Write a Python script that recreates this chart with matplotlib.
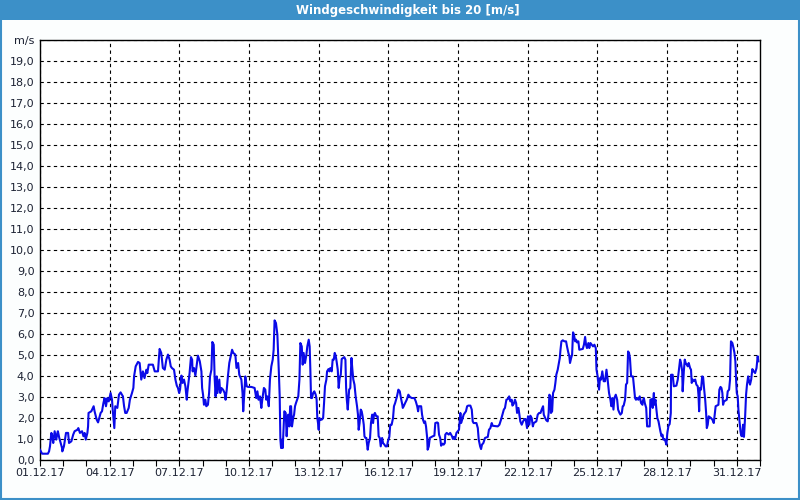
import numpy as np
import matplotlib.pyplot as plt
from matplotlib.patches import Rectangle

# wind speed, time in days since 01.12.17 00:00
days = [0.00, 0.09, 0.34, 0.39, 0.43, 0.49, 0.53, 0.57, 0.63, 0.70, 0.75, 0.77, 0.83, 0.95, 0.96,
        1.03, 1.12, 1.21, 1.25, 1.35, 1.43, 1.49, 1.61, 1.65, 1.72, 1.81, 1.87, 1.92, 1.97,
        2.04, 2.07, 2.09, 2.21, 2.31, 2.35, 2.44, 2.50, 2.55, 2.61, 2.67, 2.73, 2.78, 2.84, 2.90, 2.96,
        3.04, 3.10, 3.13, 3.20, 3.24, 3.33, 3.40, 3.47, 3.57, 3.62, 3.67, 3.73, 3.82, 3.87, 3.96,
        4.02, 4.05, 4.12, 4.22, 4.29, 4.36, 4.43, 4.50, 4.58, 4.62, 4.68, 4.86, 4.94,
        5.08, 5.15, 5.22, 5.29, 5.37, 5.44, 5.51, 5.58, 5.63, 5.68, 5.77, 5.83, 5.89, 5.94, 5.99,
        6.03, 6.09, 6.14, 6.20, 6.26, 6.32, 6.34, 6.40, 6.44, 6.50, 6.55, 6.57, 6.63, 6.69, 6.75, 6.80, 6.88, 6.95, 6.98,
        7.02, 7.06, 7.12, 7.16, 7.23, 7.28, 7.32, 7.38, 7.42, 7.48, 7.52, 7.56, 7.61, 7.64, 7.68, 7.72, 7.76, 7.81, 7.88, 7.95, 7.99,
        8.04, 8.09, 8.15, 8.21, 8.27, 8.32, 8.41, 8.46, 8.53, 8.58, 8.67, 8.72, 8.75, 8.79, 8.84, 8.90, 8.96,
        9.10, 9.24, 9.31, 9.36, 9.41, 9.47, 9.53, 9.57, 9.64, 9.70, 9.74, 9.79, 9.85, 9.90, 9.96,
        10.02, 10.06, 10.10, 10.16, 10.22, 10.28, 10.32, 10.35, 10.38, 10.42, 10.45, 10.49, 10.52, 10.58, 10.62,
        10.67, 10.69, 10.74, 10.77, 10.81, 10.85, 10.90, 10.94, 10.98,
        11.02, 11.07, 11.12, 11.17, 11.21, 11.27, 11.31, 11.35, 11.41, 11.47, 11.51, 11.57, 11.61, 11.64, 11.67,
        11.71, 11.76, 11.81, 11.87, 11.91, 11.94, 11.97,
        12.00, 12.03, 12.07, 12.13, 12.19, 12.23, 12.27, 12.33, 12.36, 12.42, 12.46, 12.50, 12.56, 12.60, 12.65,
        12.69, 12.73, 12.77, 12.82, 12.86, 12.90, 12.95, 12.99,
        13.05, 13.10, 13.15, 13.18, 13.21, 13.25, 13.31, 13.36, 13.41, 13.45, 13.49, 13.54, 13.59, 13.65, 13.69,
        13.72, 13.76, 13.81, 13.85, 13.89, 13.94, 13.97,
        14.01, 14.05, 14.11, 14.15, 14.21, 14.25, 14.30, 14.34, 14.38, 14.42, 14.48, 14.54, 14.58, 14.63, 14.67,
        14.73, 14.77, 14.83, 14.88, 14.94, 14.98,
        15.04, 15.08, 15.14, 15.20, 15.24, 15.29, 15.33, 15.37, 15.43, 15.49, 15.54, 15.60, 15.62, 15.66, 15.72,
        15.79, 15.86, 15.93,
        16.01, 16.12, 16.18, 16.24, 16.28, 16.31, 16.41, 16.45, 16.49, 16.54, 16.58, 16.62, 16.67, 16.69, 16.74,
        16.78, 16.91, 16.98,
        17.02, 17.10, 17.14, 17.18, 17.23, 17.27, 17.33, 17.38, 17.43, 17.45, 17.51, 17.60, 17.66, 17.74, 17.78,
        17.83, 17.87, 17.93, 17.99,
        18.04, 18.10, 18.13, 18.20, 18.24, 18.34, 18.39, 18.44, 18.53, 18.59, 18.63, 18.67, 18.79, 18.85, 18.89,
        18.95, 18.99,
        19.03, 19.09, 19.16, 19.28, 19.33, 19.39, 19.45, 19.49, 19.71, 19.78, 19.85, 19.91, 19.97,
        20.02, 20.08, 20.14, 20.20, 20.25, 20.31, 20.34, 20.40, 20.45, 20.50, 20.54, 20.60, 20.64, 20.68, 20.74,
        20.80, 20.86, 20.91, 20.97,
        21.01, 21.07, 21.11, 21.17, 21.22, 21.26, 21.37, 21.43, 21.49, 21.55, 21.60, 21.66, 21.69, 21.75, 21.80,
        21.86, 21.90, 21.93, 21.98,
        22.00, 22.05, 22.09, 22.15, 22.19, 22.23, 22.29, 22.33, 22.38, 22.41, 22.45, 22.51, 22.58, 22.65, 22.69,
        22.75, 22.79, 22.82, 22.87, 22.91, 22.95, 22.99,
        23.04, 23.08, 23.12, 23.18, 23.22, 23.37, 23.42, 23.47, 23.51, 23.55, 23.61, 23.65, 23.70, 23.81, 23.87,
        23.93, 23.96,
        24.01, 24.07, 24.11, 24.16, 24.21, 24.27, 24.33, 24.39, 24.44, 24.50, 24.56, 24.60, 24.64, 24.69, 24.73,
        24.79, 24.85, 24.89, 24.95, 24.99,
        25.05, 25.09, 25.13, 25.19, 25.23, 25.28, 25.32, 25.36, 25.40, 25.45, 25.53, 25.58, 25.62, 25.66, 25.71,
        25.76, 25.82, 25.88, 25.94, 25.95,
        26.00, 26.04, 26.10, 26.14, 26.25, 26.28, 26.34, 26.38, 26.43, 26.45, 26.50, 26.54, 26.58, 26.63, 26.67,
        26.71, 26.76, 26.80, 26.84, 26.89, 26.93, 26.97,
        27.01, 27.06, 27.11, 27.16, 27.17, 27.24, 27.29, 27.40, 27.46, 27.50, 27.56, 27.60, 27.65, 27.67, 27.72,
        27.76, 27.80, 27.89, 27.93, 27.99,
        28.03, 28.06, 28.10, 28.15, 28.21, 28.26, 28.32, 28.35, 28.38, 28.41, 28.46, 28.51, 28.55, 28.59, 28.64,
        28.68, 28.71, 28.75, 28.79, 28.89, 28.95,
        29.01, 29.05, 29.09, 29.21, 29.25, 29.30, 29.34, 29.38, 29.41, 29.45, 29.57, 29.61, 29.67, 29.71, 29.75,
        29.81, 29.86, 29.90, 29.94, 29.97,
        30.00, 30.04, 30.07, 30.11, 30.16, 30.19, 30.23, 30.27, 30.31, 30.36, 30.40, 30.44, 30.49, 30.53, 30.57,
        30.62, 30.67, 30.73, 30.79, 30.85, 30.90, 30.93]

speed = [0.49, 0.30, 0.30, 0.41, 0.65, 1.29, 1.13, 0.81, 1.37, 0.97, 1.29, 1.37, 1.05, 0.57, 0.41,
         0.65, 1.29, 1.29, 0.81, 0.89, 1.21, 1.37, 1.44, 1.52, 1.29, 1.37, 1.13, 1.29, 0.97,
         1.29, 1.60, 2.24, 2.32, 2.56, 2.32, 1.92, 1.79, 2.00, 2.24, 2.32, 2.71, 2.95, 2.56, 2.95, 2.79,
         3.19, 2.87, 2.40, 1.52, 2.56, 2.48, 3.11, 3.22, 3.03, 2.56, 2.24, 2.24, 2.48, 2.87, 3.19,
         3.43, 3.98, 4.46, 4.67, 4.62, 3.83, 4.22, 3.90, 4.30, 4.14, 4.54, 4.54, 4.22,
         4.22, 5.29, 5.10, 4.38, 4.30, 4.78, 5.02, 4.78, 4.46, 4.38, 4.30, 3.83, 3.54, 3.43, 3.19,
         3.35, 4.02, 3.67, 3.83, 3.51, 2.87, 3.19, 3.75, 4.14, 4.90, 4.78, 4.22, 4.38, 4.02, 4.54, 4.97, 4.70, 4.22, 3.43,
         3.11, 2.63, 2.87, 2.56, 2.63, 3.19, 3.98, 4.30, 5.62, 5.49, 3.90, 3.03, 3.98, 3.19, 3.51, 3.83, 3.19, 3.43, 3.35, 3.19, 2.87,
         3.35, 3.98, 4.62, 4.94, 5.25, 5.10, 5.02, 4.38, 4.62, 4.06, 3.83, 3.19, 2.32, 3.03, 3.98, 3.51, 3.48,
         3.48, 3.43, 2.95, 3.27, 2.87, 3.03, 2.48, 2.87, 3.43, 3.35, 2.87, 3.03, 2.56, 3.83, 4.46,
         4.78, 5.25, 6.65, 6.52, 5.97, 4.30, 3.03, 0.97, 0.57, 0.97, 0.57, 1.60, 2.32, 2.24, 1.13,
         2.08, 2.16, 1.60, 2.56, 2.56, 1.60, 2.00, 2.16, 2.56,
         2.71, 2.87, 3.03, 3.83, 5.57, 5.41, 4.54, 5.10, 4.62, 5.02, 5.41, 5.73, 5.41, 4.30, 2.95,
         2.95, 3.19, 3.27, 3.11, 2.87, 2.00, 1.76,
         1.44, 2.00, 1.92, 1.92, 2.00, 2.71, 3.51, 3.83, 4.22, 4.33, 4.22, 4.38, 4.22, 4.78, 4.78,
         5.10, 4.97, 4.70, 4.30, 3.43, 3.90, 4.06, 4.81,
         4.86, 4.90, 4.78, 3.43, 2.87, 2.40, 3.35, 3.43, 4.86, 4.30, 3.83, 3.59, 3.03, 2.56, 2.16,
         1.44, 1.76, 2.40, 2.32, 2.08, 1.68, 1.13,
         1.05, 1.05, 0.49, 0.81, 1.05, 1.76, 2.16, 1.76, 2.16, 2.24, 2.08, 2.08, 1.13, 1.05, 0.65,
         1.05, 0.81, 0.73, 0.65, 0.65, 0.89,
         1.10, 1.68, 1.68, 2.00, 2.56, 2.71, 2.87, 3.03, 3.35, 3.27, 2.95, 2.63, 2.48, 2.56, 2.71,
         2.87, 3.11, 3.00,
         2.95, 2.95, 2.79, 2.56, 2.32, 2.56, 2.56, 2.16, 1.92, 1.76, 1.84, 1.60, 1.05, 0.49, 0.65,
         1.05, 1.13, 1.16,
         1.76, 1.79, 1.76, 1.21, 1.05, 0.68, 0.78, 0.73, 0.81, 1.21, 1.29, 1.21, 1.29, 1.13, 1.00,
         1.10, 1.00, 1.29, 1.37,
         1.44, 2.24, 1.76, 2.00, 2.16, 2.32, 2.56, 2.59, 2.59, 2.40, 1.84, 1.76, 1.76, 1.52, 0.97,
         0.65, 0.52,
         0.73, 0.81, 1.05, 1.10, 1.44, 1.52, 1.76, 1.63, 1.60, 1.68, 1.92, 2.16, 2.40,
         2.48, 2.87, 2.90, 3.03, 2.79, 2.87, 2.59, 2.68, 2.87, 2.71, 2.24, 2.48, 2.16, 1.84, 1.68,
         1.84, 1.95, 1.95, 1.52,
         2.08, 1.68, 2.11, 2.00, 1.60, 1.76, 1.84, 2.16, 2.24, 2.24, 2.40, 2.56, 2.16, 2.00, 1.89,
         1.84, 2.24, 3.11, 3.03,
         2.24, 2.32, 3.19, 3.35, 3.67, 4.06, 4.30, 4.54, 4.86, 5.25, 5.65, 5.70, 5.65, 5.65, 5.41,
         5.10, 4.94, 4.62, 4.86, 5.02, 6.08, 5.97,
         5.65, 5.73, 5.60, 5.65, 5.25, 5.29, 5.49, 5.86, 5.49, 5.33, 5.57, 5.33, 5.57, 5.41, 5.49,
         5.33, 4.30,
         3.98, 3.35, 3.90, 3.83, 4.22, 3.75, 3.75, 4.30, 3.83, 3.19, 2.87, 2.56, 2.95, 2.40, 2.95,
         3.11, 2.87, 2.40, 2.24, 2.16,
         2.24, 2.56, 2.59, 2.87, 3.59, 3.67, 5.17, 5.10, 4.86, 3.98, 3.98, 3.43, 2.95, 2.87, 2.95,
         2.87, 3.03, 2.71, 2.63, 2.79,
         2.95, 2.71, 2.48, 1.60, 1.60, 2.87, 2.90, 2.48, 3.19, 2.63, 2.87, 2.40, 2.00, 1.84, 1.60,
         1.37, 1.13, 1.21, 0.97, 1.00, 0.89, 0.73,
         1.29, 1.63, 1.71, 2.24, 4.06, 4.06, 3.51, 3.54, 3.83, 4.22, 4.78, 4.62, 4.22, 3.27, 4.22,
         4.78, 4.62, 4.46, 4.62, 4.38,
         4.30, 3.67, 3.83, 3.75, 3.83, 3.59, 3.51, 3.11, 2.32, 3.43, 3.35, 3.98, 3.95, 3.43, 2.87,
         2.24, 1.52, 1.68, 2.08, 2.00, 1.92,
         1.76, 2.16, 2.56, 2.63, 3.35, 3.48, 3.43, 3.19, 2.63, 2.79, 2.87, 3.27, 3.35, 3.83, 5.65,
         5.57, 5.33, 5.10, 4.70, 3.83,
         3.19, 3.03, 2.40, 1.92, 1.37, 1.16, 1.13, 1.68, 1.10, 2.08, 3.11, 3.59, 3.98, 3.75, 3.59,
         3.83, 4.33, 4.22, 4.14, 4.38, 4.94, 4.70]

tick_days = list(range(0, 31, 3))
tick_labels = ['01.12.17', '04.12.17', '07.12.17', '10.12.17', '13.12.17', '16.12.17',
               '19.12.17', '22.12.17', '25.12.17', '28.12.17', '31.12.17']
y_labels = ['%d,0' % v for v in range(20)] + ['m/s']
title = 'Windgeschwindigkeit bis 20 [m/s]'

bar_blue = '#3c90c8'
text_col = '#1c2233'

fig = plt.figure(figsize=(8, 5), dpi=100, facecolor='#fcfefe')

# title bar and frame around the figure
fig.patches.append(Rectangle((0, 0.96), 1, 0.04, transform=fig.transFigure,
                             facecolor=bar_blue, edgecolor='none', zorder=0))
fig.patches.append(Rectangle((0.001, 0.002), 0.998, 0.97, transform=fig.transFigure,
                             facecolor='none', edgecolor=bar_blue, linewidth=1.5, zorder=0))
fig.text(0.51, 0.979, title, color='white', fontsize=8.5, fontweight='bold',
         ha='center', va='center')

ax = fig.add_axes([0.05, 0.08, 0.90, 0.84])
ax.set_facecolor('white')
ax.plot(days, speed, color='#0a0ae8', linewidth=1.5, zorder=3)

ax.set_xlim(0, 31)
ax.set_ylim(0, 20)
ax.set_xticks(tick_days)
ax.set_xticklabels(tick_labels)
ax.set_xticks(range(0, 32), minor=True)
ax.set_yticks(range(21))
ax.set_yticklabels(y_labels)

ax.tick_params(axis='x', which='both', direction='out', length=4, width=0.8,
               colors='black', labelcolor=text_col, labelsize=8, pad=2)
ax.tick_params(axis='y', length=0, labelcolor=text_col, labelsize=8, pad=4)

ax.grid(True, which='major', color='black', linestyle=(0, (3, 3)), linewidth=0.8)
for s in ax.spines.values():
    s.set_color('black')
    s.set_linewidth(1.0)

fig.savefig('out.png', dpi=100, facecolor=fig.get_facecolor())
